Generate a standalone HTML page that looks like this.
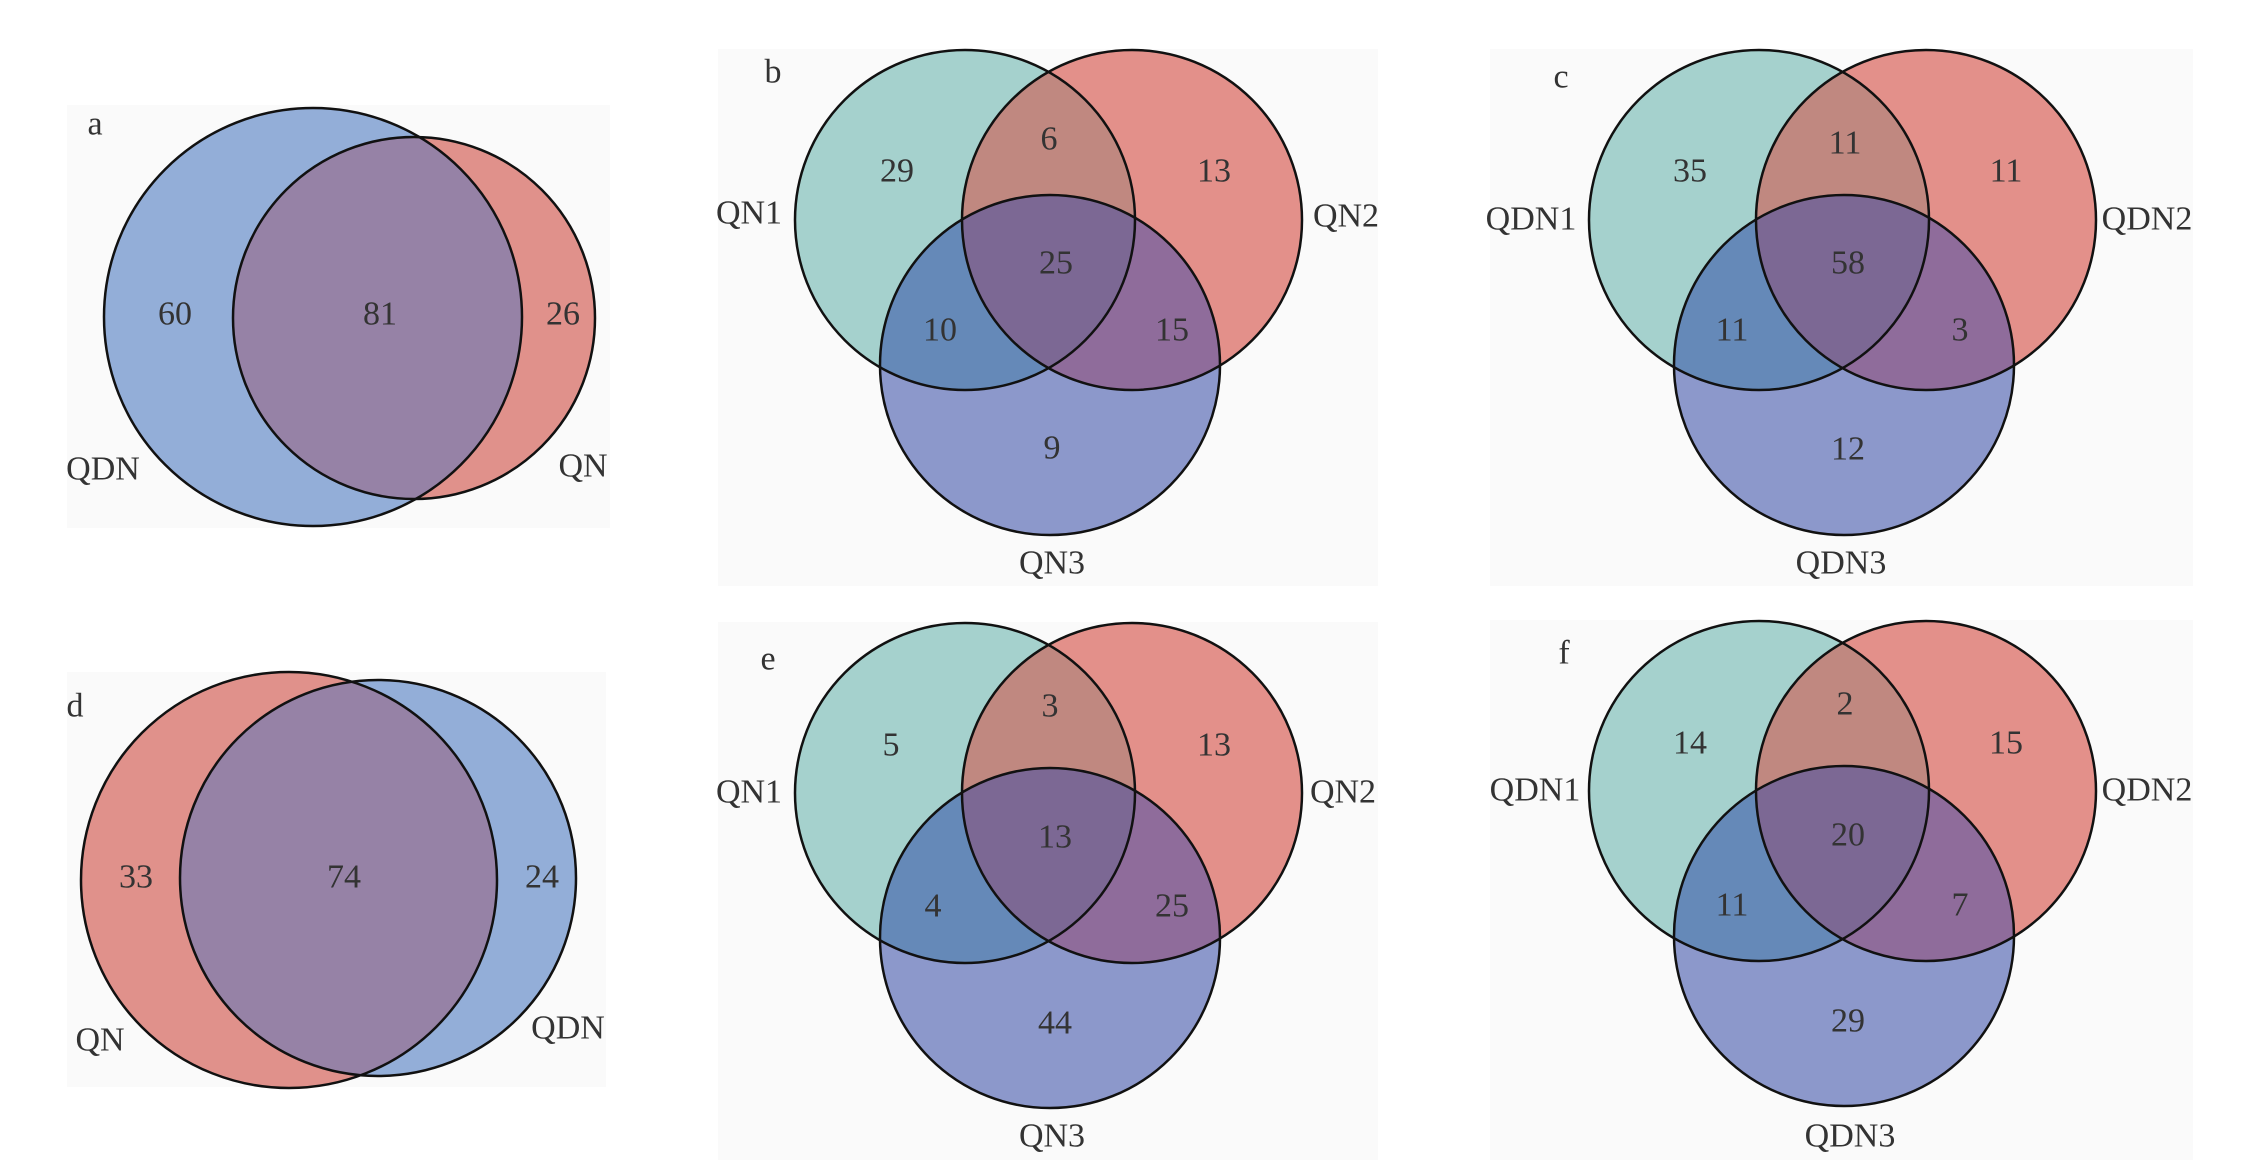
<!DOCTYPE html>
<html><head><meta charset="utf-8"><style>html,body{margin:0;padding:0;background:#fff}svg{display:block}</style></head>
<body>
<svg width="2250" height="1164" viewBox="0 0 2250 1164" xmlns="http://www.w3.org/2000/svg" font-family="Liberation Serif, serif" font-size="34" fill="#333">
<defs>
<clipPath id="k1"><circle cx="965" cy="220" r="170"/></clipPath>
<clipPath id="k2"><circle cx="1132" cy="220" r="170"/></clipPath>
<clipPath id="k3"><circle cx="1050" cy="365" r="170"/></clipPath>
<g id="v3">
<circle cx="965" cy="220" r="170" fill="#a5d1cd"/>
<circle cx="1132" cy="220" r="170" fill="#e3908a"/>
<circle cx="1050" cy="365" r="170" fill="#8c98cb"/>
<g clip-path="url(#k1)"><circle cx="1132" cy="220" r="170" fill="#c08880"/><circle cx="1050" cy="365" r="170" fill="#6589b8"/></g>
<g clip-path="url(#k2)"><circle cx="1050" cy="365" r="170" fill="#8f6c9b"/></g>
<g clip-path="url(#k1)"><g clip-path="url(#k2)"><circle cx="1050" cy="365" r="170" fill="#7c6894"/></g></g>
<g fill="none" stroke="#111" stroke-width="2.5">
<circle cx="965" cy="220" r="170"/><circle cx="1132" cy="220" r="170"/><circle cx="1050" cy="365" r="170"/></g>
</g>
<clipPath id="ka"><circle cx="313" cy="317" r="209"/></clipPath>
<clipPath id="kd"><circle cx="289" cy="880" r="208"/></clipPath>
</defs>

<!-- backgrounds -->
<rect x="67" y="105" width="543" height="423" fill="#fafafa"/>
<rect x="718" y="49" width="660" height="537" fill="#fafafa"/>
<rect x="1490" y="49" width="703" height="537" fill="#fafafa"/>
<rect x="67" y="672" width="539" height="415" fill="#fafafa"/>
<rect x="718" y="622" width="660" height="538" fill="#fafafa"/>
<rect x="1490" y="620" width="703" height="540" fill="#fafafa"/>

<!-- panel a -->
<circle cx="313" cy="317" r="209" fill="#93aed8"/>
<circle cx="414" cy="318" r="181" fill="#e0918b"/>
<circle cx="414" cy="318" r="181" fill="#9682a6" clip-path="url(#ka)"/>
<g fill="none" stroke="#111" stroke-width="2.5"><circle cx="313" cy="317" r="209"/><circle cx="414" cy="318" r="181"/></g>

<!-- panel d -->
<circle cx="289" cy="880" r="208" fill="#e0918b"/>
<circle cx="378" cy="878" r="198" fill="#93aed8"/>
<circle cx="378" cy="878" r="198" fill="#9682a6" clip-path="url(#kd)"/>
<g fill="none" stroke="#111" stroke-width="2.5"><circle cx="289" cy="880" r="208"/><circle cx="378" cy="878" r="198"/></g>

<use href="#v3"/>
<use href="#v3" transform="translate(794,0)"/>
<use href="#v3" transform="translate(0,573)"/>
<use href="#v3" transform="translate(794,571)"/>

<g text-anchor="middle" dominant-baseline="central">
<text x="95" y="124">a</text>
<text x="175" y="314">60</text><text x="380" y="314">81</text><text x="563" y="314">26</text>
<text x="103" y="469">QDN</text><text x="583" y="466">QN</text>

<text x="773" y="72">b</text>
<text x="897" y="171">29</text><text x="1049" y="139">6</text><text x="1214" y="171">13</text>
<text x="749" y="213">QN1</text><text x="1346" y="216">QN2</text>
<text x="1056" y="263">25</text><text x="940" y="330">10</text><text x="1172" y="330">15</text>
<text x="1052" y="448">9</text><text x="1052" y="563">QN3</text>

<text x="1561" y="77">c</text>
<text x="1690" y="171">35</text><text x="1845" y="143">11</text><text x="2006" y="171">11</text>
<text x="1531" y="219">QDN1</text><text x="2147" y="219">QDN2</text>
<text x="1848" y="263">58</text><text x="1732" y="330">11</text><text x="1960" y="330">3</text>
<text x="1848" y="449">12</text><text x="1841" y="563">QDN3</text>

<text x="75" y="706">d</text>
<text x="136" y="877">33</text><text x="344" y="877">74</text><text x="542" y="877">24</text>
<text x="100" y="1040">QN</text><text x="568" y="1028">QDN</text>

<text x="768" y="659">e</text>
<text x="891" y="745">5</text><text x="1050" y="706">3</text><text x="1214" y="745">13</text>
<text x="749" y="792">QN1</text><text x="1343" y="792">QN2</text>
<text x="1055" y="837">13</text><text x="933" y="906">4</text><text x="1172" y="906">25</text>
<text x="1055" y="1023">44</text><text x="1052" y="1136">QN3</text>

<text x="1564" y="653">f</text>
<text x="1690" y="743">14</text><text x="1845" y="704">2</text><text x="2006" y="743">15</text>
<text x="1535" y="790">QDN1</text><text x="2147" y="790">QDN2</text>
<text x="1848" y="835">20</text><text x="1732" y="905">11</text><text x="1960" y="905">7</text>
<text x="1848" y="1021">29</text><text x="1850" y="1136">QDN3</text>
</g>
</svg>
</body></html>
